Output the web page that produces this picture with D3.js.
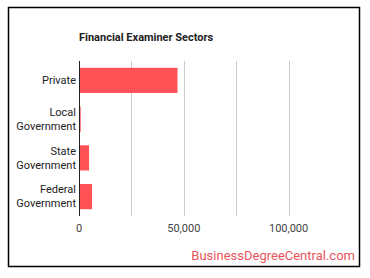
<!DOCTYPE html>
<html>
<head>
<meta charset="utf-8">
<script src="https://cdn.jsdelivr.net/npm/d3@7"></script>
<style>
  body { margin: 0; background: #fff; }
  text { font-family: Roboto, "Noto Sans", sans-serif; }
</style>
</head>
<body>
<div id="chart"></div>
<script>
//Data
var sectors = [["Private"], ["Local", "Government"], ["State", "Government"], ["Federal", "Government"]];
var employed = [47000, 800, 4800, 6200];
var tickValues = [0, 50000, 100000];
var gridValues = [25000, 50000, 75000, 100000];

//Size
var width = 370, height = 278;
var margin = {top: 61, right: 29, bottom: 62, left: 79};

var svg = d3.select("#chart")
  .append("svg")
    .attr("width", width)
    .attr("height", height);

//Frame
svg.append("rect")
  .attr("x", 8.5).attr("y", 7.5)
  .attr("width", 351).attr("height", 259)
  .attr("fill", "#fff")
  .attr("stroke", "#000")
  .attr("stroke-width", 1.5);

var x = d3.scaleLinear()
  .domain([0, 125000])
  .range([margin.left, width - margin.right]);

var y = d3.scaleBand()
  .domain(d3.range(sectors.length))
  .range([margin.top, height - margin.bottom])
  .paddingInner(0.35)
  .paddingOuter(0.175);

//Title
svg.append("text")
  .attr("x", margin.left)
  .attr("y", 41)
  .style("font-size", "11px")
  .style("font-weight", "bold")
  .attr("fill", "#222")
  .text("Financial Examiner Sectors");

//Gridlines
svg.selectAll(".grid")
  .data(gridValues)
  .enter()
  .append("line")
    .attr("x1", function(d) { return Math.round(x(d)) + 0.5; })
    .attr("x2", function(d) { return Math.round(x(d)) + 0.5; })
    .attr("y1", margin.top)
    .attr("y2", height - margin.bottom)
    .attr("stroke", "#ccc");

//Bars
svg.selectAll(".bar")
  .data(employed)
  .enter()
  .append("rect")
    .attr("x", x(0))
    .attr("y", function(d, i) { return y(i); })
    .attr("width", function(d) { return x(d) - x(0); })
    .attr("height", y.bandwidth())
    .attr("fill", "#fe5257");

//Axis line
svg.append("line")
  .attr("x1", Math.round(x(0)) + 0.5)
  .attr("x2", Math.round(x(0)) + 0.5)
  .attr("y1", margin.top)
  .attr("y2", height - margin.bottom)
  .attr("stroke", "#222");

//Category labels
var labels = svg.selectAll(".cat")
  .data(sectors)
  .enter()
  .append("text")
    .attr("text-anchor", "end")
    .style("font-size", "11px")
    .attr("fill", "#222")
    .attr("y", function(d, i) { return y(i) + y.bandwidth() / 2 - (d.length - 1) * 7; });

labels.selectAll("tspan")
  .data(function(d) { return d; })
  .enter()
  .append("tspan")
    .attr("x", margin.left - 3)
    .attr("dy", function(d, i) { return i === 0 ? "0.35em" : "14px"; })
    .text(function(d) { return d; });

//X tick labels
svg.selectAll(".tick")
  .data(tickValues)
  .enter()
  .append("text")
    .attr("x", function(d) { return x(d); })
    .attr("y", 232)
    .attr("text-anchor", "middle")
    .style("font-size", "11px")
    .attr("fill", "#444")
    .text(function(d) { return d3.format(",")(d); });

//Source
svg.append("text")
  .attr("x", 355)
  .attr("y", 260)
  .attr("text-anchor", "end")
  .style("font-size", "13px")
  .attr("fill", "#e9545c")
  .text("BusinessDegreeCentral.com");
</script>
</body>
</html>
